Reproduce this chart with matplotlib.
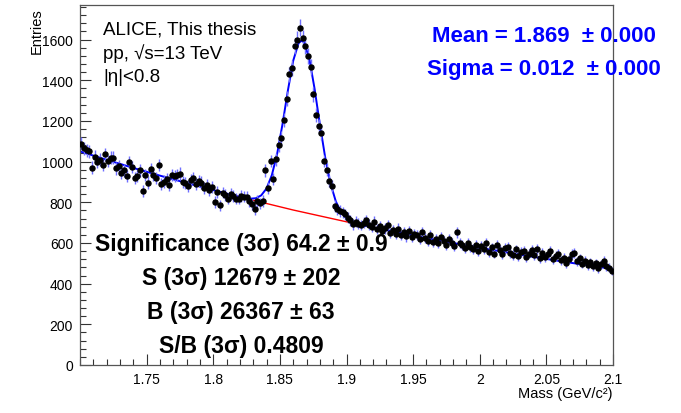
import matplotlib
matplotlib.use("Agg")
import matplotlib.pyplot as plt
import numpy as np
from matplotlib.ticker import MultipleLocator

plt.rcParams["font.family"] = ["Liberation Sans", "DejaVu Sans"]

# histogram: 200 bins of 2 MeV from 1.70 to 2.10 GeV/c^2
bin_start = 1.70
bin_width = 0.002
entries = [
    1088, 1065, 1055, 1050, 970, 1024, 1000, 1010, 983, 1036,
    1003, 1019, 1019, 967, 978, 946, 957, 929, 998, 974,
    918, 929, 957, 856, 934, 897, 962, 933, 921, 983,
    892, 902, 913, 885, 934, 929, 934, 941, 900, 893,
    880, 910, 921, 889, 905, 897, 870, 885, 862, 875,
    802, 851, 785, 848, 835, 818, 840, 831, 818, 818,
    831, 828, 828, 806, 790, 766, 807, 795, 807, 957,
    872, 1003, 913, 1011, 1080, 1118, 1203, 1310, 1429, 1461,
    1568, 1600, 1658, 1608, 1568, 1520, 1465, 1330, 1230, 1175,
    1142, 1003, 960, 905, 880, 782, 766, 757, 750, 740,
    725, 712, 692, 705, 695, 688, 700, 712, 690, 678,
    705, 668, 682, 660, 672, 688, 650, 664, 645, 670,
    640, 655, 632, 660, 628, 645, 640, 618, 652, 625,
    612, 640, 605, 620, 598, 630, 610, 592, 618, 600,
    585, 652, 602, 590, 575, 598, 580, 570, 592, 560,
    585, 572, 598, 556, 578, 548, 590, 565, 545, 575,
    580, 552, 540, 568, 535, 555, 560, 530, 548, 565,
    540, 572, 525, 550, 530, 545, 560, 520, 535, 548,
    515, 528, 500, 520, 545, 552, 510, 525, 498, 512,
    490, 505, 485, 500, 475, 495, 512, 485, 478, 462,
]

# total fit (gaussian + background), sampled as drawn
fit_mass = [1.70, 1.72, 1.74, 1.76, 1.78, 1.80, 1.82, 1.824, 1.828, 1.832,
            1.836, 1.840, 1.844, 1.848, 1.852, 1.856, 1.860, 1.864, 1.866,
            1.868, 1.872, 1.876, 1.880, 1.884, 1.888, 1.892, 1.896, 1.900,
            1.904, 1.908, 1.912, 1.916, 1.92, 1.94, 1.96, 1.98, 2.00, 2.02,
            2.04, 2.06, 2.08, 2.10]
fit_total = [1050, 1009, 969, 931, 895, 860, 826, 821, 818, 820,
             834, 868, 934, 1040, 1185, 1349, 1496, 1582, 1594,
             1588, 1509, 1360, 1184, 1021, 892, 804, 750, 721,
             704, 695, 687, 682, 676, 650, 624, 600, 576, 554,
             532, 511, 491, 472]

# background component under the peak
bkg_mass = [1.80, 1.82, 1.84, 1.86, 1.88, 1.90, 1.916]
bkg_vals = [860, 826, 794, 762, 733, 704, 682]

fig = plt.figure(figsize=(6.81, 4.14), dpi=100)
ax = fig.add_axes([80 / 681, 48 / 414, 533 / 681, 360 / 414])

mass = bin_start + bin_width * (np.arange(len(entries)) + 0.5)
counts = np.array(entries, dtype=float)

ax.plot(bkg_mass, bkg_vals, color="#ff0000", lw=1.0, zorder=2)
ax.plot(fit_mass, fit_total, color="#0000ff", lw=1.4, zorder=2.5)
ax.errorbar(mass, counts, yerr=np.sqrt(counts), fmt="o", color="black",
            ms=3.6, ecolor="#6f6fff", elinewidth=1.0, capsize=0, zorder=3)

ax.set_xlim(1.70, 2.10)
ax.set_ylim(0, 1770)
ax.set_xticks([1.75, 1.8, 1.85, 1.9, 1.95, 2.0, 2.05, 2.1])
ax.set_xticklabels(["1.75", "1.8", "1.85", "1.9", "1.95", "2", "2.05", "2.1"])
ax.xaxis.set_minor_locator(MultipleLocator(0.01))
ax.set_yticks(np.arange(0, 1601, 200))
ax.yaxis.set_minor_locator(MultipleLocator(40))
ax.tick_params(which="both", direction="in", top=False, right=False,
               labelsize=10, color="#333333")
ax.tick_params(which="major", length=8, width=0.8, pad=5)
ax.tick_params(which="minor", length=4, width=0.8)
for s in ax.spines.values():
    s.set_linewidth(0.9)
    s.set_color("#555555")

fig.text(37 / 681, 1 - 8 / 414, "Entries", rotation=90, ha="center",
         va="top", fontsize=10.5)
fig.text(612 / 681, 1 - 394 / 414, "Mass (GeV/c²)", ha="right",
         va="center", fontsize=10.5)

for i, line in enumerate(["ALICE, This thesis", "pp, √s=13 TeV", "|η|<0.8"]):
    fig.text(103 / 681, 1 - (30 + 24 * i) / 414, line, ha="left",
             va="center", fontsize=13.5)

fig.text(544 / 681, 1 - 37 / 414, "Mean = 1.869  ± 0.000", ha="center",
         va="center", fontsize=16, fontweight="bold", color="#0000ff")
fig.text(544 / 681, 1 - 70 / 414, "Sigma = 0.012  ± 0.000", ha="center",
         va="center", fontsize=16, fontweight="bold", color="#0000ff")

sig_lines = ["Significance (3σ) 64.2 ± 0.9", "S (3σ) 12679 ± 202",
             "B (3σ) 26367 ± 63", "S/B (3σ) 0.4809"]
for i, line in enumerate(sig_lines):
    fig.text(241 / 681, 1 - (245 + 33.7 * i) / 414, line, ha="center",
             va="center", fontsize=16.5, fontweight="bold")

fig.savefig("out.png", dpi=100)
